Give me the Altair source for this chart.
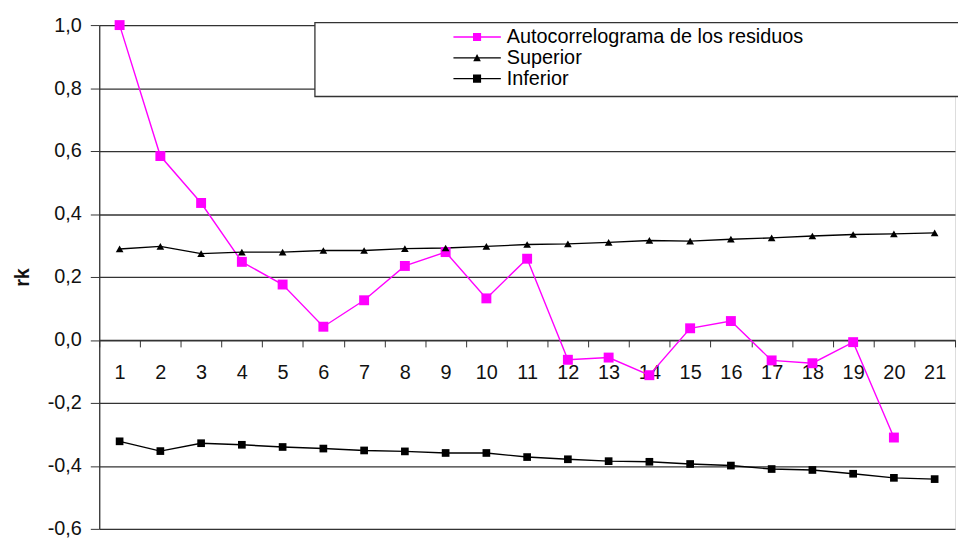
import altair as alt
import pandas as pd

# ---- data ----
lags = list(range(1, 22))
series_names = ["Autocorrelograma de los residuos", "Superior", "Inferior"]
autocorr = [1.0, 0.584, 0.435, 0.248, 0.176, 0.042, 0.126, 0.235, 0.279, 0.132,
            0.258, -0.063, -0.056, -0.112, 0.037, 0.06, -0.065, -0.074, -0.007, -0.31]
superior = [0.289, 0.297, 0.274, 0.279, 0.279, 0.284, 0.284, 0.29, 0.292, 0.297,
            0.303, 0.305, 0.31, 0.316, 0.314, 0.32, 0.324, 0.33, 0.335, 0.337, 0.34]
inferior = [-0.322, -0.353, -0.328, -0.333, -0.34, -0.345, -0.351, -0.354, -0.359, -0.359,
            -0.372, -0.379, -0.385, -0.387, -0.394, -0.399, -0.41, -0.413, -0.425, -0.438, -0.442]
y_ticks = [-0.6, -0.4, -0.2, 0.0, 0.2, 0.4, 0.6, 0.8, 1.0]

rows = []
for name, vals in zip(series_names, [autocorr, superior, inferior]):
    for lag, v in zip(lags, vals):
        rows.append({"lag": lag, "serie": name, "value": v})
df = pd.DataFrame(rows)

W, H = 863, 508
Y_MIN, Y_MAX = -0.6, 1.0
x_axis_offset = H * (Y_MAX - 0.0) / (Y_MAX - Y_MIN) - H  # move x axis up to y = 0

colors = ["#ff00ff", "#000000", "#000000"]
color_scale = alt.Scale(domain=series_names, range=colors)

# legend symbols: a thin filled bar (the line) with the marker in the middle
bar = "M-1,-0.028H1V0.028H-1Z"
sq = bar + "M-0.17,-0.17H0.17V0.17H-0.17Z"
tri = bar + "M0,-0.16L0.16,0.14H-0.16Z"

legend = alt.Legend(
    title=None, orient="none", legendX=357, legendY=2, padding=0,
    labelFont="Liberation Sans", labelFontSize=20, labelColor="#000000", labelLimit=0,
    labelOffset=6, clipHeight=20, rowPadding=1, symbolSize=2304,
    symbolOpacity=1, symbolStrokeWidth=0,
)

x_enc = alt.X("lag:O", scale=alt.Scale(paddingInner=0, paddingOuter=0),
              axis=alt.Axis(title=None, labelAngle=0, offset=x_axis_offset, tickBand="extent",
                            tickSize=7, labelPadding=16, labelFontSize=20, labelColor="#111111",
                            tickColor="#333333", domainColor="#333333", domainWidth=1.3,
                            grid=False, labelFont="Liberation Sans"))
y_enc = alt.Y("value:Q", scale=alt.Scale(domain=[Y_MIN, Y_MAX], nice=False, zero=False),
              axis=alt.Axis(title="rk", values=y_ticks, grid=True, gridColor="#333333",
                            gridWidth=1.3, gridOpacity=1, tickSize=9, tickColor="#333333",
                            domainColor="#333333", domainWidth=1.3, labelPadding=9,
                            labelFontSize=20, labelColor="#111111", labelFont="Liberation Sans",
                            labelExpr="replace(replace(format(datum.value, '.1f'), '.', ','), '\u2212', '-')",
                            titleFontSize=20, titleFontWeight="bold", titleFont="Liberation Sans",
                            titleColor="#111111", titleX=-77, titleY=H / 2, titleAngle=270,
                            titleBaseline="middle", titleAlign="center"))

color_enc = alt.Color("serie:N", scale=color_scale, legend=legend)

base = alt.Chart(df)

lines = base.mark_line(strokeWidth=1.4).encode(
    x=x_enc, y=y_enc, color=color_enc, order=alt.Order("lag:O"),
)

marker_specs = [("square", 100), ("triangle-up", 60), ("square", 60)]
point_layers = []
for name, (shp, sz) in zip(series_names, marker_specs):
    point_layers.append(
        base.transform_filter(alt.datum.serie == name)
        .mark_point(filled=True, opacity=1, shape=shp, size=sz)
        .encode(x="lag:O", y="value:Q", color=color_enc)
    )

# invisible layer that gives the legend its line-with-marker symbols
legend_layer = base.mark_point(filled=True, opacity=0, size=2304).encode(
    x="lag:O", y="value:Q",
    color=color_enc,
    shape=alt.Shape("serie:N", scale=alt.Scale(domain=series_names, range=[sq, tri, sq]),
                    legend=legend),
)

box = alt.Chart(pd.DataFrame({"k": [0]})).mark_rect(
    fill="white", stroke="#333333", strokeWidth=1.3
).encode(x=alt.value(217.5), x2=alt.value(880), y=alt.value(-2.5), y2=alt.value(72))

chart = alt.layer(box, lines, *point_layers, legend_layer).properties(
    width=W, height=H,
    autosize=alt.AutoSizeParams(type="none"),
    padding={"left": 92, "top": 15, "right": 3, "bottom": 8},
).configure_view(stroke="#333333", strokeWidth=1.3).configure(font="Liberation Sans")

chart.save("out.html", embed_options={"renderer": "svg", "actions": False})
